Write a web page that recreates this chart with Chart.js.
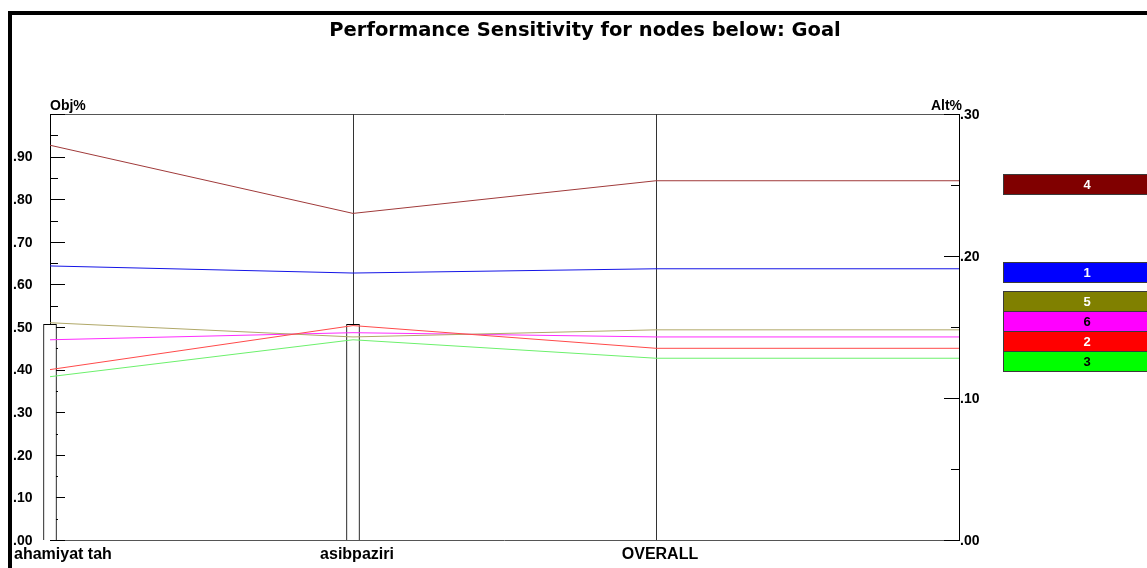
<!DOCTYPE html>
<html lang="en">
<head>
<meta charset="UTF-8">
<title>Performance Sensitivity for nodes below: Goal</title>
<style>
    body { margin: 0; background: #fff; }
    #wrap { position: relative; width: 1147px; height: 568px; }
</style>
<script src="https://cdn.jsdelivr.net/npm/chart.js"></script>
</head>
<body>
<div id="wrap"><canvas id="chart" width="1147" height="568"></canvas></div>
<script>
// criteria along the x axis, last one is the overall result
const criteria = ['ahamiyat tah', 'asibpaziri', 'OVERALL'];
// criterion weights (Obj%, left axis)
const criteriaWeights = [0.506, 0.506];

// alternative priorities (Alt%, right axis) at each criterion + overall
const altNames = ['1', '2', '3', '4', '5', '6'];
const alt1 = [0.193, 0.188, 0.191];
const alt2 = [0.120, 0.151, 0.135];
const alt3 = [0.115, 0.141, 0.128];
const alt4 = [0.278, 0.230, 0.253];
const alt5 = [0.153, 0.143, 0.148];
const alt6 = [0.141, 0.146, 0.143];
const altValues = [alt1, alt2, alt3, alt4, alt5, alt6];

const boxColors  = ['#0000ff', '#ff0000', '#00ff00', '#800000', '#808000', '#ff00ff'];
const lineColors = ['#1414e6', '#ff4a4a', '#6cf06c', '#a03a3a', '#b0a868', '#ff2cff'];
const boxText    = ['#fff', '#fff', '#000', '#fff', '#fff', '#000'];

// tick labels
const objTicks = [0, 0.1, 0.2, 0.3, 0.4, 0.5, 0.6, 0.7, 0.8, 0.9];
const objMinor = [0.05, 0.15, 0.25, 0.35, 0.45, 0.55, 0.65, 0.75, 0.85, 0.95];
const altTicks = [0, 0.1, 0.2, 0.3];
const altMinor = [0.05, 0.15, 0.25];

function fmt(v) {
    return '.' + Math.round(v * 100).toString().padStart(2, '0');
}

const lineSets = altValues.map((vals, i) => ({
    type: 'line',
    label: altNames[i],
    data: [
        { x: 0, y: vals[0] },
        { x: 1, y: vals[1] },
        { x: 2, y: vals[2] },
        { x: 3, y: vals[2] }   // overall carried across to the Alt% axis
    ],
    yAxisID: 'yAlt',
    borderColor: lineColors[i],
    borderWidth: 1,
    pointRadius: 0,
    tension: 0,
    order: 1
}));

const weightBars = {
    type: 'bar',
    label: 'Obj%',
    data: criteriaWeights.map((w, i) => ({ x: i, y: w })),
    yAxisID: 'yObj',
    backgroundColor: '#fff',
    borderColor: '#000',
    borderWidth: 1,
    barThickness: 13,
    clip: false,
    order: 2
};

const TICK_FONT = 'bold 14px "Liberation Sans", Arial, sans-serif';
const CAT_FONT = 'bold 16px "Liberation Sans", Arial, sans-serif';
const BOX_FONT = 'bold 13px "Liberation Sans", Arial, sans-serif';

const framePlugin = {
    id: 'frame',
    beforeDatasetsDraw(chart) {
        const ctx = chart.ctx;
        const a = chart.chartArea;
        const x = chart.scales.x;
        const yObj = chart.scales.yObj;
        const yAlt = chart.scales.yAlt;
        ctx.save();
        // outer heavy frame
        ctx.fillStyle = '#000';
        ctx.fillRect(8, 11, 1147, 4);
        ctx.fillRect(8, 11, 4, 568);

        // plot box
        ctx.strokeStyle = '#555';
        ctx.lineWidth = 1;
        ctx.beginPath();
        ctx.moveTo(a.left, a.top + 0.5); ctx.lineTo(a.right, a.top + 0.5);
        ctx.moveTo(a.left, a.bottom + 0.5); ctx.lineTo(a.right, a.bottom + 0.5);
        ctx.stroke();

        // criterion verticals
        ctx.strokeStyle = '#333';
        ctx.beginPath();
        for (let i = 1; i < criteria.length; i++) {
            const px = Math.round(x.getPixelForValue(i)) + 0.5;
            ctx.moveTo(px, a.top); ctx.lineTo(px, a.bottom);
        }
        ctx.stroke();

        // axes
        ctx.strokeStyle = '#000';
        ctx.beginPath();
        ctx.moveTo(a.left + 0.5, a.top); ctx.lineTo(a.left + 0.5, a.bottom + 1);
        ctx.moveTo(a.right + 0.5, a.top); ctx.lineTo(a.right + 0.5, a.bottom + 1);
        objTicks.concat([1]).forEach(v => {
            const py = Math.round(yObj.getPixelForValue(v)) + 0.5;
            ctx.moveTo(a.left, py); ctx.lineTo(a.left + 15, py);
        });
        objMinor.forEach(v => {
            const py = Math.round(yObj.getPixelForValue(v)) + 0.5;
            ctx.moveTo(a.left, py); ctx.lineTo(a.left + 8, py);
        });
        altTicks.forEach(v => {
            const py = Math.round(yAlt.getPixelForValue(v)) + 0.5;
            ctx.moveTo(a.right - 15, py); ctx.lineTo(a.right, py);
        });
        altMinor.forEach(v => {
            const py = Math.round(yAlt.getPixelForValue(v)) + 0.5;
            ctx.moveTo(a.right - 8, py); ctx.lineTo(a.right, py);
        });
        ctx.stroke();
        ctx.restore();
    },
    afterDraw(chart) {
        const ctx = chart.ctx;
        const a = chart.chartArea;
        const x = chart.scales.x;
        const yObj = chart.scales.yObj;
        const yAlt = chart.scales.yAlt;
        ctx.save();
        ctx.fillStyle = '#000';

        // title
        ctx.font = 'bold 19.5px "DejaVu Sans", Verdana, sans-serif';
        ctx.textAlign = 'center';
        ctx.textBaseline = 'alphabetic';
        ctx.fillText('Performance Sensitivity for nodes below: Goal', 585, 36);

        // axis titles
        ctx.font = TICK_FONT;
        ctx.textAlign = 'left';
        ctx.fillText('Obj%', a.left, a.top - 4);
        ctx.textAlign = 'right';
        ctx.fillText('Alt%', a.right + 3, a.top - 4);

        // tick labels
        ctx.textBaseline = 'middle';
        ctx.textAlign = 'left';
        objTicks.forEach(v => ctx.fillText(fmt(v), 13, yObj.getPixelForValue(v) + 1));
        altTicks.forEach(v => ctx.fillText(fmt(v), a.right + 1, yAlt.getPixelForValue(v) + 1));

        // criterion names
        ctx.font = CAT_FONT;
        ctx.textBaseline = 'alphabetic';
        criteria.forEach((c, i) => {
            const px = x.getPixelForValue(i);
            if (i === 0) {
                ctx.textAlign = 'left';
                ctx.fillText(c, 14, a.bottom + 19);
            } else {
                ctx.textAlign = 'center';
                ctx.fillText(c, px + 4, a.bottom + 19);
            }
        });

        // labelled boxes at the overall value, stacked upward when they collide
        const h = 20;
        const items = altNames.map((n, i) => ({
            i, want: yAlt.getPixelForValue(altValues[i][2]) + 3
        })).sort((p, q) => q.want - p.want);
        let limit = Infinity;
        items.forEach(it => {
            let c = it.want;
            if (c + h / 2 > limit) c = limit - h / 2;
            it.c = c;
            limit = c - h / 2;
        });
        ctx.font = BOX_FONT;
        ctx.textAlign = 'center';
        ctx.textBaseline = 'middle';
        items.forEach(it => {
            const top = Math.round(it.c - h / 2);
            ctx.fillStyle = boxColors[it.i];
            ctx.fillRect(1003, top, 170, h);
            ctx.strokeStyle = '#3a3a3a';
            ctx.lineWidth = 1;
            ctx.strokeRect(1003.5, top + 0.5, 170, h);
            ctx.fillStyle = boxText[it.i];
            ctx.fillText(altNames[it.i], 1087, top + h / 2 + 1);
        });
        ctx.restore();
    }
};

new Chart(document.getElementById('chart'), {
    type: 'line',
    data: { datasets: [...lineSets, weightBars] },
    options: {
        responsive: false,
        animation: false,
        layout: { padding: { left: 50, right: 188, top: 114, bottom: 28 } },
        plugins: { legend: { display: false }, tooltip: { enabled: false }, title: { display: false } },
        scales: {
            x: { type: 'linear', min: 0, max: 3, display: false, offset: false },
            yObj: { type: 'linear', position: 'left', min: 0, max: 1, display: false },
            yAlt: { type: 'linear', position: 'right', min: 0, max: 0.3, display: false }
        }
    },
    plugins: [framePlugin]
});
</script>
</body>
</html>
